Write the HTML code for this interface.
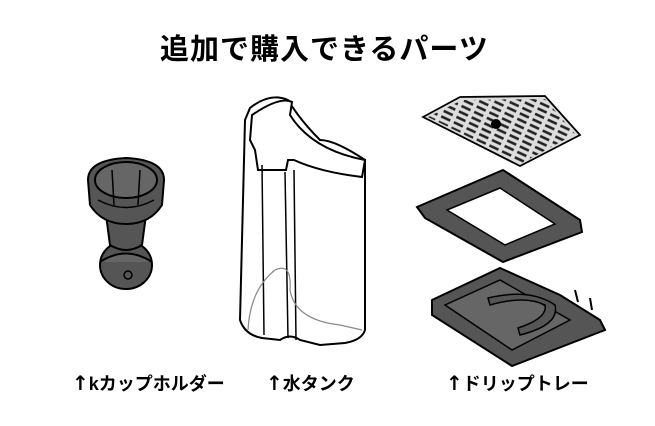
<!DOCTYPE html>
<html><head><meta charset="utf-8"><style>
html,body{margin:0;padding:0;background:#fff;}
body{width:655px;height:426px;position:relative;overflow:hidden;font-family:"Liberation Sans","Noto Sans CJK JP",sans-serif;}
.t{position:absolute;font-weight:bold;color:#000;white-space:nowrap;}
.a{font-size:20px;font-family:"DejaVu Sans",sans-serif;}
</style></head><body>
<div class="t" style="left:160px;top:26px;font-size:29px;letter-spacing:1px;">追加で購入できるパーツ</div>
<div class="t" style="left:72px;top:370px;font-size:18px;"><span class="a">↑</span>kカップホルダー</div>
<div class="t" style="left:266px;top:370px;font-size:18px;"><span class="a">↑</span>水タンク</div>
<div class="t" style="left:446px;top:370px;font-size:18px;"><span class="a">↑</span>ドリップトレー</div>
<svg width="655" height="426" style="position:absolute;left:0;top:0" fill="none" stroke="#000" stroke-width="2">
<defs>
<pattern id="sl" width="14" height="6" patternUnits="userSpaceOnUse" patternTransform="rotate(25)">
<line x1="1" y1="3" x2="11" y2="3" stroke="#222" stroke-width="2.6"/>
</pattern>
<clipPath id="gc"><polygon points="428,117 462,100 545,99 575,134 522,163"/></clipPath>
</defs>
<!-- cup holder -->
<ellipse cx="126" cy="265" rx="26" ry="24" fill="#555"/>
<path d="M100 262 Q126 245 152 262" fill="#666"/>
<path d="M106 215 L110 245 Q126 255 142 245 L146 215 Z" fill="#555"/>
<path d="M88 180 Q88 160 126 158 Q164 160 164 180 L162 205 Q150 224 126 224 Q102 224 90 205 Z" fill="#555"/>
<ellipse cx="126" cy="180" rx="31" ry="18" fill="#666"/>
<path d="M112 170 L114 205 M140 170 L138 205" stroke-width="1.5"/>
<path d="M98 200 Q126 215 154 200" stroke-width="1.5"/>
<circle cx="128" cy="275" r="4" stroke-width="1.5"/>
<!-- water tank -->
<path d="M245 120 L240 320 Q245 335 262 338 L280 340 Q290 333 300 340 L320 345 L345 343 Q362 340 365 330 L365 160 Q335 140 320 140 Q300 120 288 100 Q270 92 250 108 Z" fill="#fff"/>
<path d="M252 115 Q280 96 292 102 L290 115 Q312 150 365 160 L362 177 Q320 172 294 160 L288 160 L286 170 L258 170 L255 150 L250 140 Z" fill="#fff"/>
<path d="M262 165 L264 335 M285 172 L288 338" stroke-width="1.5"/>
<path d="M294 170 L296 340" stroke-width="1.5"/>
<path d="M248 330 Q250 290 275 270 Q292 262 290 290 Q295 320 340 325 L362 330" stroke="#888" stroke-width="1.2"/>
<!-- grill -->
<polygon points="423,117 460,97 545,96 580,135 520,166" fill="#ddd" stroke-width="1.8"/>
<rect x="420" y="90" width="170" height="80" fill="url(#sl)" clip-path="url(#gc)" stroke="none"/>
<circle cx="496" cy="124" r="5" fill="#000" stroke="none"/>
<!-- frame -->
<path d="M417 207 L503 170 L580 220 L582 232 L503 262 L425 218 Z" fill="#555"/>
<path d="M447 210 L500 188 L555 224 L505 245 Z" fill="#fff" stroke-width="1.5"/>
<!-- tray -->
<path d="M432 300 L500 268 L560 295 L600 320 L605 330 L512 366 L432 315 Z" fill="#555"/>
<path d="M445 305 L500 280 L570 320 L512 350 Z" fill="#666" stroke-width="1.5"/>
<path d="M488 298 Q530 288 555 305 Q560 325 520 335 L518 328 Q548 318 545 305 Q525 295 490 305 Z" fill="#555" stroke-width="1.5"/>
<path d="M575 290 L578 302 M590 298 L592 310" stroke-width="2"/>
</svg>
</body></html>
